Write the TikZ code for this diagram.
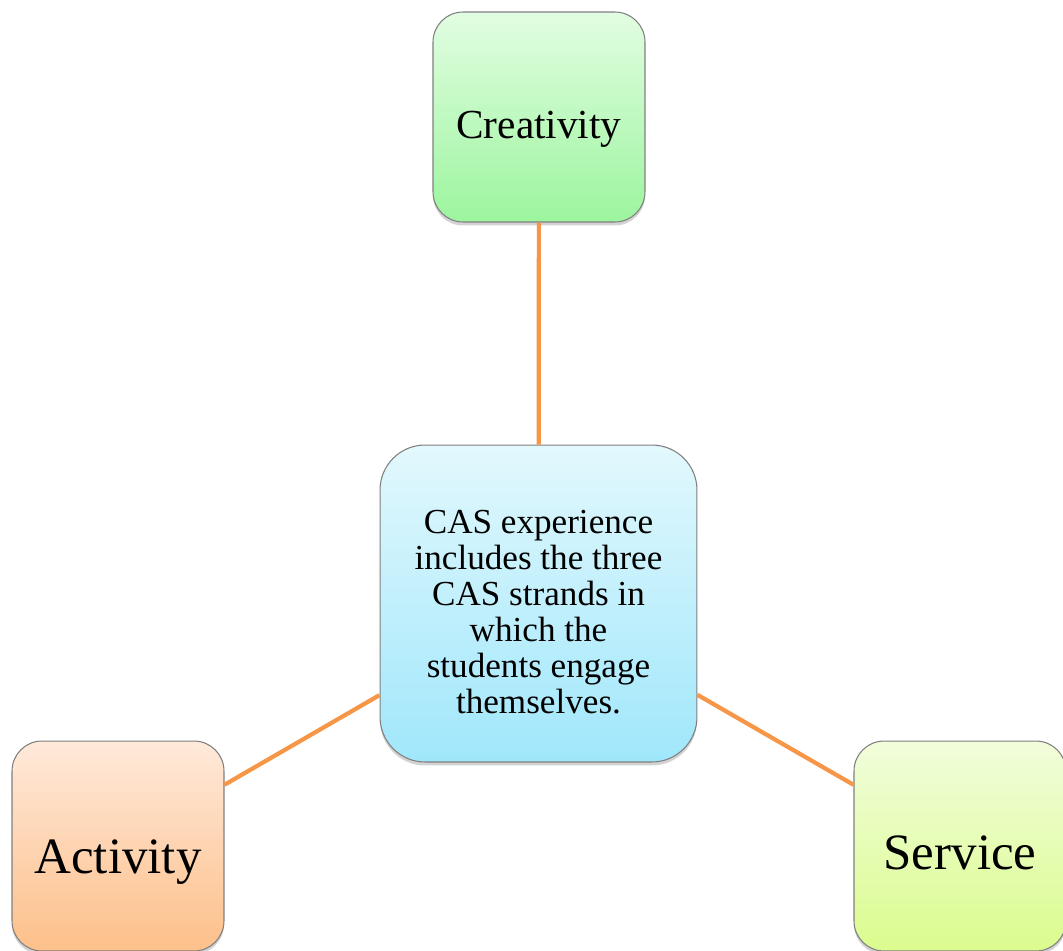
\documentclass[tikz,border=0pt]{standalone}
\usepackage{fontspec}
\setmainfont{Liberation Serif}
\usetikzlibrary{shadows}

\definecolor{casline}{HTML}{F79646}
\definecolor{boxedge}{HTML}{7F7F7F}
\definecolor{creatop}{HTML}{E2FDE2}
\definecolor{creabot}{HTML}{9CF59E}
\definecolor{acttop}{HTML}{FFE9DA}
\definecolor{actbot}{HTML}{FDC08A}
\definecolor{servtop}{HTML}{F1FDDB}
\definecolor{servbot}{HTML}{DBFC8E}
\definecolor{castop}{HTML}{E2F8FD}
\definecolor{casbot}{HTML}{A0E7FB}

\begin{document}
\begin{tikzpicture}[x=0.02cm,y=-0.02cm,
        strand/.style={draw=boxedge, line width=0.6pt, rounded corners=0.6cm,
            minimum width=4.24cm, minimum height=4.2cm, align=center,
            drop shadow={shadow xshift=0pt, shadow yshift=-2pt, opacity=0.35, fill=gray}},
        link/.style={draw=casline, line width=2.4pt}]
        \useasboundingbox (0,0) rectangle (1063,951);

        % Strands
        \node[strand, top color=creatop, bottom color=creabot, text height=30pt, text depth=5pt,
            font=\fontsize{23.5}{26}\selectfont] (crea) at (539,117) {Creativity};
        \node[strand, top color=acttop, bottom color=actbot, text height=37pt, text depth=6pt,
            font=\fontsize{29}{32}\selectfont] (act) at (118,846) {Activity};
        \node[strand, top color=servtop, bottom color=servbot, text height=33pt, text depth=6pt,
            font=\fontsize{29}{32}\selectfont] (serv) at (960,846) {Service};

        % CAS experience
        \node[strand, rounded corners=0.9cm, minimum width=6.34cm, minimum height=6.34cm,
            top color=castop, bottom color=casbot,
            font=\fontsize{20}{20.5}\selectfont] (cas) at (538.5,603.5)
            {\rule{0pt}{23pt}CAS experience\\includes the three\\CAS strands in\\which the\\students engage\\themselves.};

        % Links
        \draw[link] (crea) -- (cas);
        \draw[link] (cas) -- (act);
        \draw[link] (cas) -- (serv);
\end{tikzpicture}
\end{document}
